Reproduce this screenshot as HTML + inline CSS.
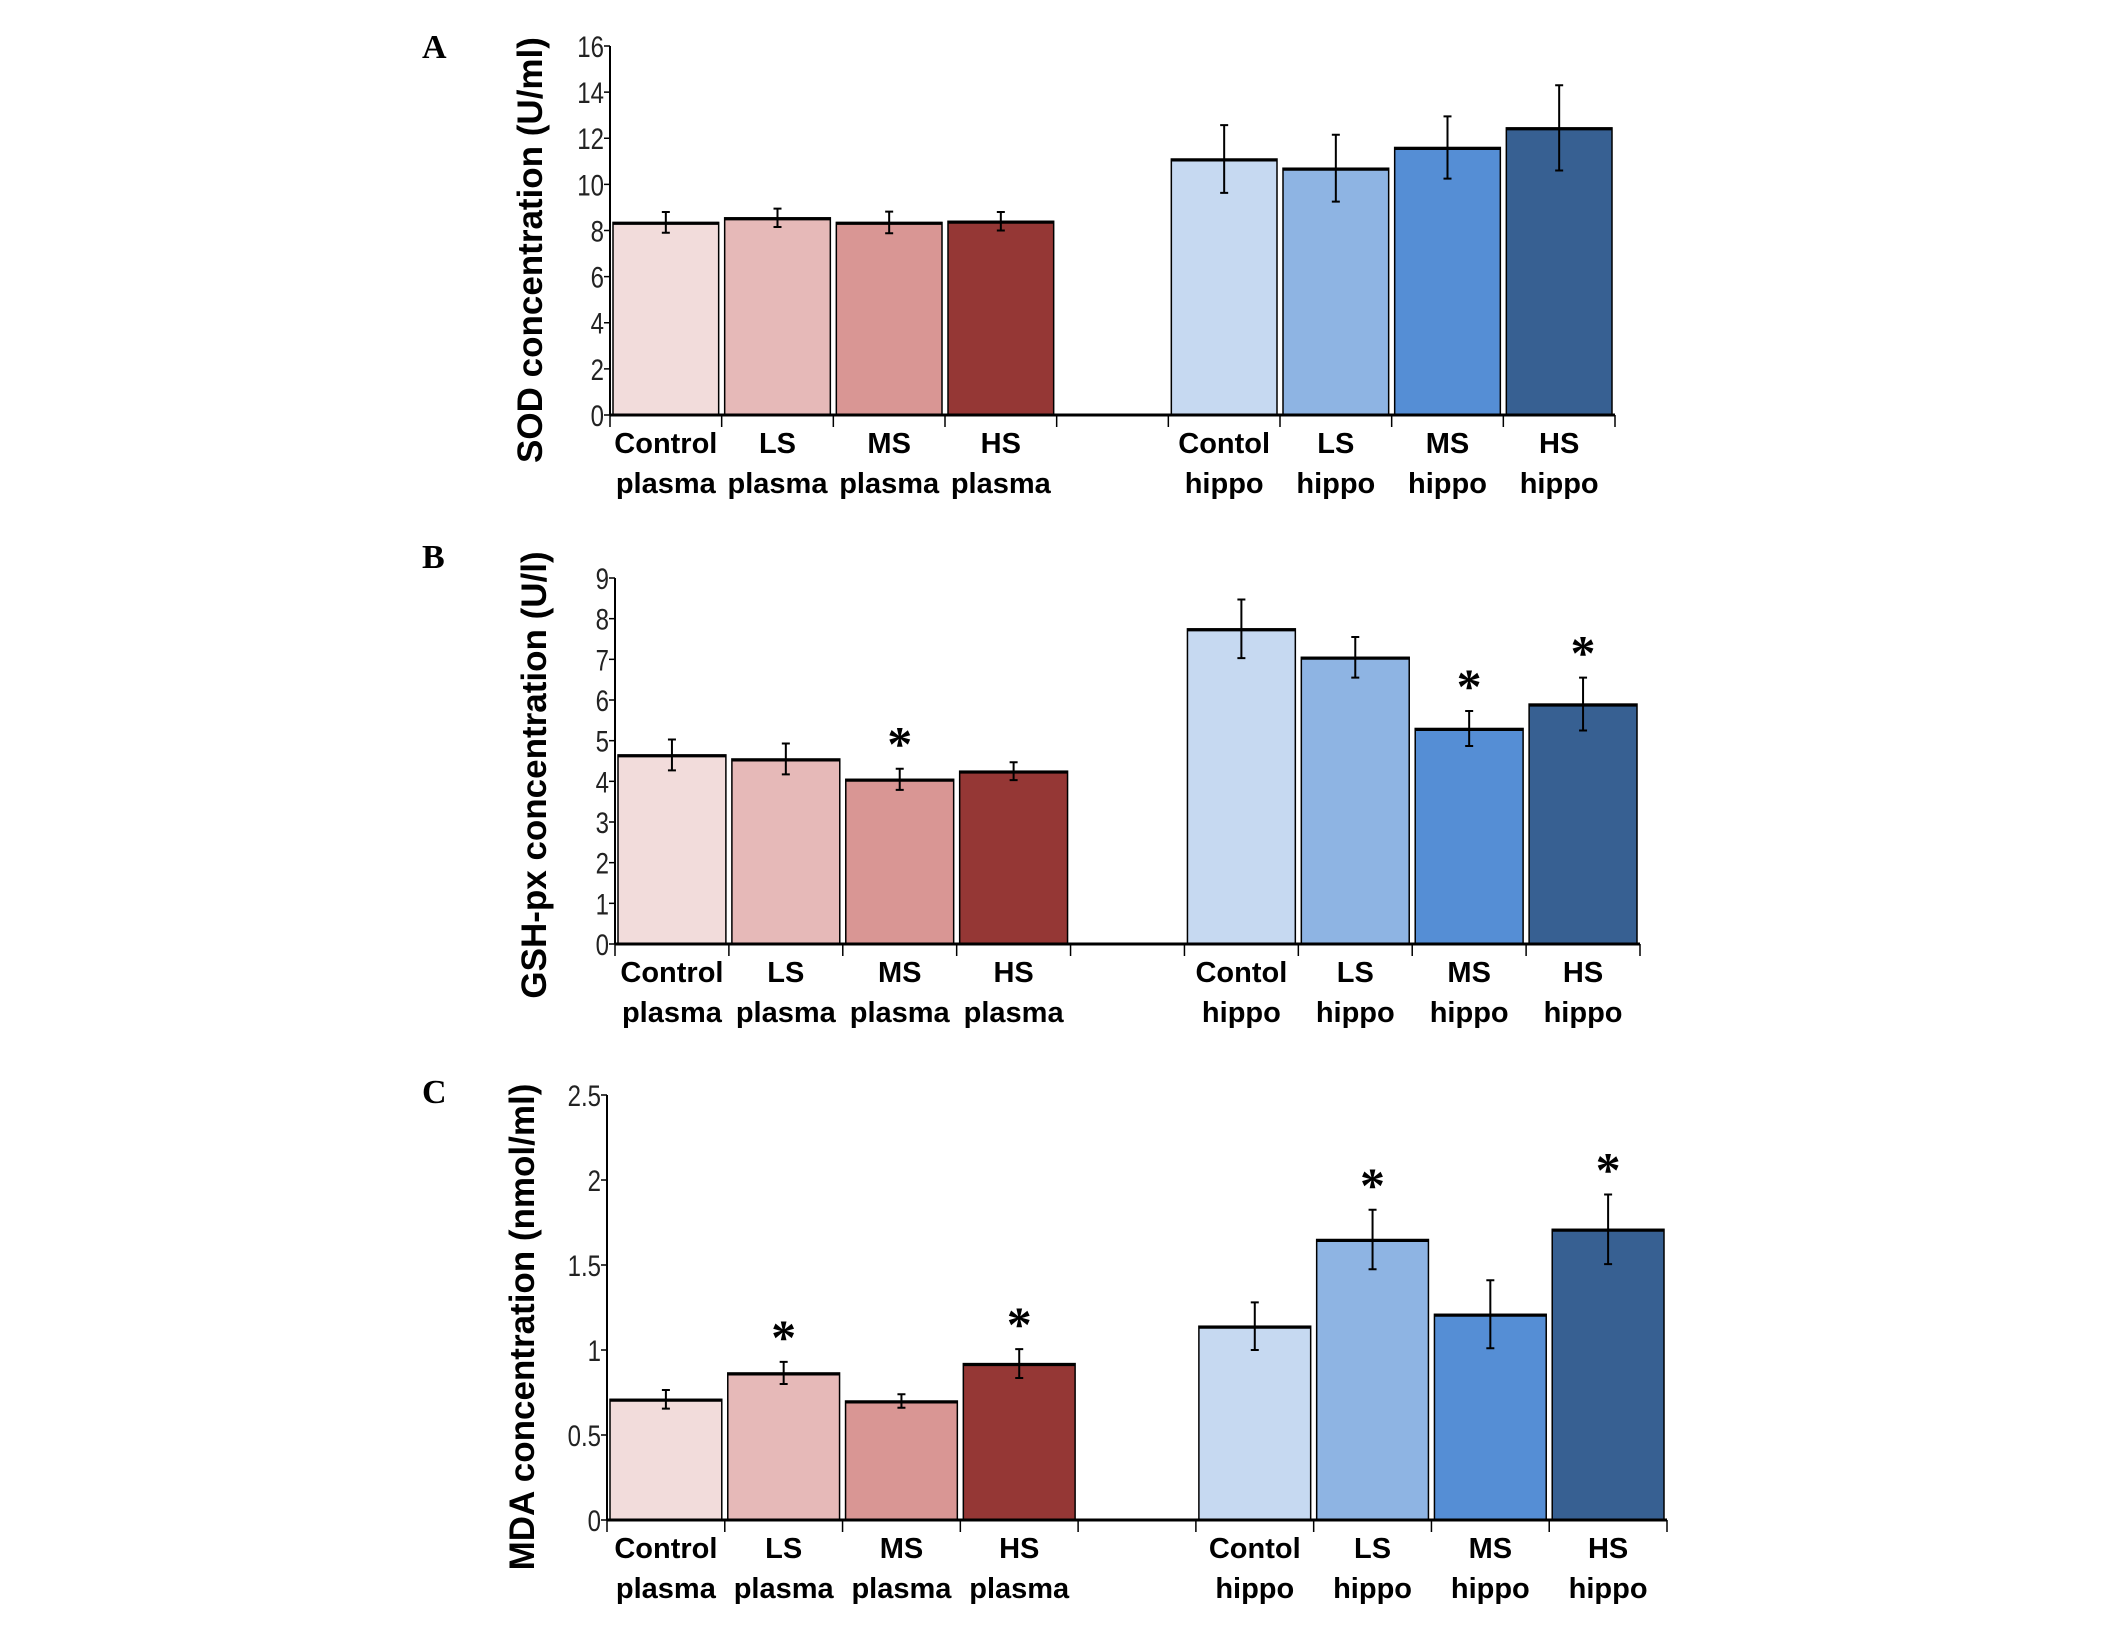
<!DOCTYPE html>
<html><head><meta charset="utf-8"><style>
html,body{margin:0;padding:0;background:#fff;}
svg{display:block;}
text{font-family:"Liberation Sans",sans-serif;}
</style></head><body>
<svg id="fig" width="2126" height="1634" viewBox="0 0 2126 1634" xmlns="http://www.w3.org/2000/svg"></svg>
<script>
const categories1 = ["Control","LS","MS","HS"];
const categories2 = ["plasma","plasma","plasma","plasma"];
const hippoCats1 = ["Contol","LS","MS","HS"];
const hippoCats2 = ["hippo","hippo","hippo","hippo"];
const sodPlasma = [8.35, 8.55, 8.35, 8.4];
const sodPlasmaErr = [0.45, 0.4, 0.47, 0.4];
const sodHippo = [11.1, 10.7, 11.6, 12.45];
const sodHippoErr = [1.47, 1.45, 1.35, 1.85];
const sodTicks = [0,2,4,6,8,10,12,14,16];
const gshPlasma = [4.65, 4.55, 4.05, 4.25];
const gshPlasmaErr = [0.38, 0.38, 0.26, 0.22];
const gshHippo = [7.75, 7.05, 5.3, 5.9];
const gshHippoErr = [0.72, 0.5, 0.43, 0.65];
const gshTicks = [0,1,2,3,4,5,6,7,8,9];
const gshStarsPlasma = [false,false,true,false];
const gshStarsHippo = [false,false,true,true];
const mdaPlasma = [0.71, 0.865, 0.70, 0.92];
const mdaPlasmaErr = [0.055, 0.065, 0.04, 0.085];
const mdaHippo = [1.14, 1.65, 1.21, 1.71];
const mdaHippoErr = [0.14, 0.175, 0.2, 0.205];
const mdaTicks = [0,0.5,1,1.5,2,2.5];
const mdaStarsPlasma = [false,true,false,true];
const mdaStarsHippo = [false,true,false,true];
const noStars = [false,false,false,false];
const plasmaColors = ["#f2dcdb","#e6b9b8","#d99694","#953735"];
const hippoColors = ["#c6d9f1","#8eb4e3","#558ed5","#376092"];

const NS = "http://www.w3.org/2000/svg";
const svg = document.getElementById('fig');
function mk(tag, attrs, parent, txt){
  const e = document.createElementNS(NS, tag);
  for (const k in attrs) e.setAttribute(k, attrs[k]);
  if (txt !== undefined) e.textContent = txt;
  (parent||svg).appendChild(e);
  return e;
}

function panel(p){
  const g = mk('g', {});
  
  
  const slot = (p.x1 - p.x0) / 9;
  const ymax = p.ticks[p.ticks.length-1];
  const yScale = v => p.y0 - (v / ymax) * (p.y0 - p.yTop);
  const xSlot = i => p.x0 + i * slot;

  const L = mk('text', {x: p.letterX, y: p.letterY, 'font-size': 34, 'font-weight': 'bold', style: 'font-family:"Liberation Serif",serif'}, g, p.letter);
  
  

  const t = mk('text', {x: 0, y: 0, 'font-size': 35, 'font-weight': 'bold', 'text-anchor': 'middle', transform: `translate(${p.titleX},${p.titleY}) rotate(-90)`}, g, p.title);
  
  

  function bars(vals, errs, cols, stars, offset, c1, c2, grp){
    vals.forEach((v, i) => {
      const sx = xSlot(offset + i);
      const y = yScale(v);
      const r = mk('rect', {x: sx + 3, y: y, width: slot - 6, height: p.y0 - y, fill: cols[i], stroke: '#000', 'stroke-width': 1.5}, g);
      
      
      mk('line', {x1: sx + 3, x2: sx + slot - 3, y1: y + 1, y2: y + 1, stroke: '#000', 'stroke-width': 3}, g);
      const cx = sx + slot / 2;
      const yt = yScale(v + errs[i]), yb = yScale(v - errs[i]);
      const eb = mk('path', {d: `M${cx},${yt}V${yb}M${cx-4},${yt}H${cx+4}M${cx-4},${yb}H${cx+4}`, stroke: '#000', 'stroke-width': 2, fill: 'none'}, g);
      
      
      if (stars[i]) {
        const s = mk('text', {x: cx, y: yt - 8, 'font-size': 50, 'font-weight': 'bold', 'text-anchor': 'middle', style: 'font-family:"Liberation Serif",serif'}, g, '*');
        
        
      }
      const l1 = mk('text', {x: cx, y: p.y0 + 38, 'font-size': 29, 'font-weight': 'bold', 'text-anchor': 'middle'}, g, c1[i]);
      
      
      const l2 = mk('text', {x: cx, y: p.y0 + 78, 'font-size': 29, 'font-weight': 'bold', 'text-anchor': 'middle'}, g, c2[i]);
      
      
    });
  }
  bars(p.plasma, p.plasmaErr, plasmaColors, p.starsP, 0, categories1, categories2, 'plasma');
  bars(p.hippo, p.hippoErr, hippoColors, p.starsH, 5, hippoCats1, hippoCats2, 'hippo');

  const ya = mk('line', {x1: p.x0, x2: p.x0, y1: p.yTop, y2: p.y0, stroke: '#000', 'stroke-width': 2}, g);
  
  
  const xa = mk('line', {x1: p.x0, x2: p.x1, y1: p.y0, y2: p.y0, stroke: '#000', 'stroke-width': 3}, g);
  
  
  for (let i = 0; i <= 9; i++) mk('line', {x1: xSlot(i), x2: xSlot(i), y1: p.y0, y2: p.y0 + 12, stroke: '#000', 'stroke-width': 1.5}, g);
  p.ticks.forEach(v => {
    const y = yScale(v);
    mk('line', {x1: p.x0 - 6, x2: p.x0, y1: y, y2: y, stroke: '#000', 'stroke-width': 1.5}, g);
    const tl = mk('text', {x: p.x0 - 6, y: y + 11, 'font-size': 30, 'text-anchor': 'end', fill: '#222', transform: `translate(${(p.x0-6)*0.2},0) scale(0.8,1)`}, g, String(v));
    
    
  });
}

panel({letter:'A', letterX:422, letterY:58, title:'SOD concentration (U/ml)', titleX:542, titleY:250,
  x0:610, x1:1615, y0:415, yTop:46, ticks:sodTicks,
  plasma:sodPlasma, plasmaErr:sodPlasmaErr, hippo:sodHippo, hippoErr:sodHippoErr, starsP:noStars, starsH:noStars});
panel({letter:'B', letterX:422, letterY:568, title:'GSH-px concentration (U/l)', titleX:546, titleY:775,
  x0:615, x1:1640, y0:944, yTop:578, ticks:gshTicks,
  plasma:gshPlasma, plasmaErr:gshPlasmaErr, hippo:gshHippo, hippoErr:gshHippoErr, starsP:gshStarsPlasma, starsH:gshStarsHippo});
panel({letter:'C', letterX:422, letterY:1103, title:'MDA concentration (nmol/ml)', titleX:534, titleY:1327,
  x0:607, x1:1667, y0:1520, yTop:1095, ticks:mdaTicks,
  plasma:mdaPlasma, plasmaErr:mdaPlasmaErr, hippo:mdaHippo, hippoErr:mdaHippoErr, starsP:mdaStarsPlasma, starsH:mdaStarsHippo});
</script>
</body></html>
